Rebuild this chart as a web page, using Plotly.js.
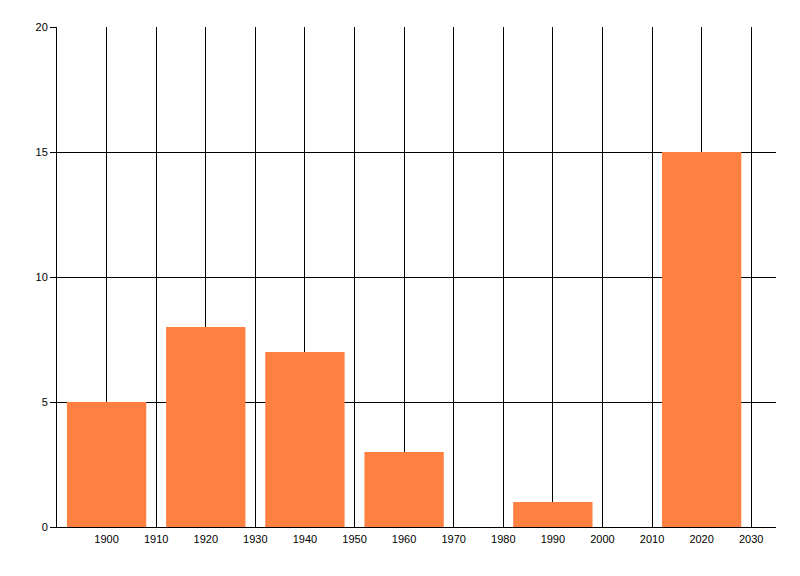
<!DOCTYPE html>
<html>
<head>
<meta charset="utf-8">
<script src="https://cdn.plot.ly/plotly-3.0.1.min.js"></script>
<style>html,body{margin:0;padding:0;background:#fff;}#chart{width:800px;height:576px;}</style>
</head>
<body>
<div id="chart"></div>
<script>
var years = [1900, 1920, 1940, 1960, 1990, 2020];
var values = [5, 8, 7, 3, 1, 15];
var xTicks = [1900, 1910, 1920, 1930, 1940, 1950, 1960, 1970, 1980, 1990, 2000, 2010, 2020, 2030];
var yTicks = [0, 5, 10, 15, 20];

var trace = {
  type: 'bar',
  x: years,
  y: values,
  width: 16,
  marker: {color: 'rgb(255,128,64)', line: {width: 0}},
  hoverinfo: 'none'
};

var layout = {
  width: 800,
  height: 576,
  margin: {l: 57, r: 24, t: 27, b: 49, pad: 0},
  paper_bgcolor: '#ffffff',
  plot_bgcolor: '#ffffff',
  showlegend: false,
  font: {family: 'Liberation Sans, Arial, sans-serif', size: 11, color: '#000'},
  xaxis: {
    range: [1890, 2035],
    tickmode: 'array',
    tickvals: xTicks,
    ticktext: xTicks.map(String),
    showgrid: true,
    gridcolor: '#000',
    gridwidth: 1,
    zeroline: false,
    showline: true,
    linecolor: '#000',
    linewidth: 1,
    ticks: '',
    ticklabelstandoff: 2,
    tickfont: {size: 11, color: '#000'}
  },
  yaxis: {
    range: [0, 20],
    tickmode: 'array',
    tickvals: yTicks,
    ticktext: yTicks.map(String),
    showgrid: true,
    gridcolor: '#000',
    gridwidth: 1,
    zeroline: false,
    showline: true,
    linecolor: '#000',
    linewidth: 1,
    ticks: 'outside',
    ticklen: 6,
    tickcolor: '#000',
    tickfont: {size: 11, color: '#000'}
  }
};

Plotly.newPlot('chart', [trace], layout, {staticPlot: true, displayModeBar: false});
</script>
</body>
</html>
